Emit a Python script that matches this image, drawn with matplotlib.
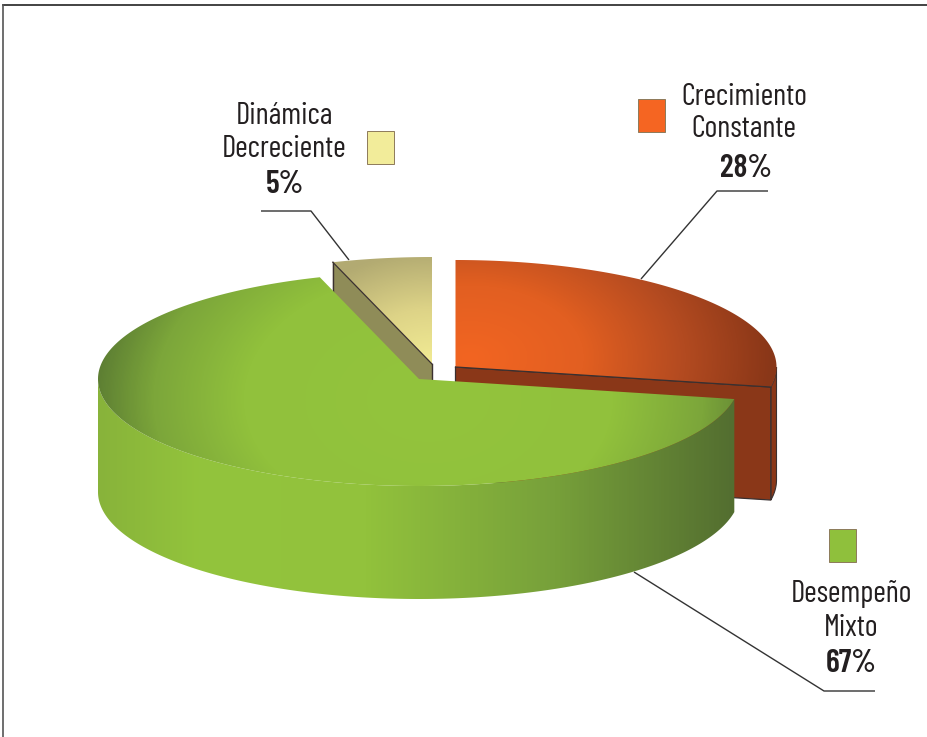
import numpy as np
import matplotlib
matplotlib.use("Agg")
import matplotlib.pyplot as plt
from matplotlib.patches import Polygon, Rectangle
from matplotlib.colors import LinearSegmentedColormap as LSC
from matplotlib import font_manager as fm

categories = [["Crecimiento", "Constante"], ["Desempeño", "Mixto"], ["Dinámica", "Decreciente"]]
shares = [28, 67, 5]
swatch_colors = ["#F56522", "#8FC03C", "#F2EC9A"]
START_ANGLE = 90.0

names = {f.name for f in fm.fontManager.ttflist}
FONT = next((n for n in ["Barlow Condensed", "Asap Condensed", "Cabin Condensed", "Liberation Sans"] if n in names),
            "DejaVu Sans")

W, H = 928, 737
fig = plt.figure(figsize=(W / 100, H / 100), dpi=100)
ax = fig.add_axes([0, 0, 1, 1])
ax.set_xlim(0, W)
ax.set_ylim(H, 0)
ax.axis("off")

RX, RY, DEPTH = 321.0, 107.0, 113.0
centers = [(455.5, 367.0), (419.0, 379.0), (432.0, 364.0)]

# slice angles come from the values, clockwise from the top
ends = START_ANGLE - np.cumsum(shares) * 3.6
starts = np.r_[START_ANGLE, ends[:-1]]


def pt(c, a, dy=0.0):
    a = np.radians(a)
    return np.c_[c[0] + RX * np.cos(a), c[1] - RY * np.sin(a) + dy]


def arc(c, a0, a1, dy=0.0, n=240):
    return pt(c, np.linspace(a0, a1, n), dy)


def paint(poly, fn, cmap, z):
    """Fill a polygon with a gradient; fn(x, y) -> 0..1."""
    x0, y0 = np.floor(poly.min(0))
    x1, y1 = np.ceil(poly.max(0))
    xs, ys = np.meshgrid(np.arange(x0, x1 + 1), np.arange(y0, y1 + 1))
    im = ax.imshow(fn(xs, ys), extent=(x0 - .5, x1 + .5, y1 + .5, y0 - .5), cmap=cmap,
                   vmin=0, vmax=1, zorder=z, aspect="auto", interpolation="bilinear")
    clip = Polygon(poly, closed=True, transform=ax.transData, fc="none", ec="none")
    ax.add_patch(clip)
    im.set_clip_path(clip)
    ax.set_xlim(0, W)
    ax.set_ylim(H, 0)


def radial(cx, cy, sx, sy):
    return lambda x, y: np.clip(np.hypot((x - cx) / sx, (y - cy) / sy), 0, 1)


red_top = LSC.from_list("r", [(0, "#F26522"), (.38, "#E25F21"), (.72, "#B24A20"), (1, "#8A3718")])
green_top = LSC.from_list("g", [(0, "#93C43C"), (.55, "#91C13C"), (.82, "#7CA63A"), (1, "#5C7D33")])
yellow_top = LSC.from_list("y", [(0, "#F2EC94"), (.5, "#DDD387"), (1, "#B3AB72")])
green_wall = LSC.from_list("gw", [(0, "#88B33A"), (.16, "#93C43C"), (.42, "#92C23C"),
                                  (.72, "#77A03A"), (1, "#536E30")])
edge = "#3a3030"

# leader lines (behind the pie)
leaders = [[(641, 279), (717, 191), (768, 191)],
           [(349, 260), (311, 211), (261, 211)],
           [(634, 572), (824, 691), (875, 691)]]
for L in leaders:
    p = np.array(L)
    ax.plot(p[:, 0], p[:, 1], color="#333333", lw=1.0, zorder=1, solid_capstyle="butt")

# Dinamica Decreciente
c = centers[2]
a0, a1 = starts[2], ends[2]
p_side = pt(c, np.array([a0]))[0]
wall = np.array([p_side, c, (c[0], c[1] + DEPTH), (p_side[0], p_side[1] + DEPTH)])
ax.add_patch(Polygon(wall, closed=True, fc="#8F8C58", ec="none", zorder=2))
ax.plot([p_side[0], p_side[0]], [p_side[1], p_side[1] + DEPTH], color=edge, lw=1, zorder=2.1)
ax.plot([c[0], c[0]], [c[1], c[1] + DEPTH], color=edge, lw=1, zorder=2.1)
top = np.vstack([c, arc(c, a0, a1)])
paint(top, radial(c[0], c[1], 150, 112), yellow_top, 3)
ax.plot([p_side[0], c[0]], [p_side[1], c[1]], color=edge, lw=.9, zorder=3.1)

# Crecimiento Constante
c = centers[0]
a0, a1 = starts[0], ends[0]
p_end = pt(c, np.array([a1]))[0]
outer = np.vstack([arc(c, 0, a1), arc(c, a1, 0, DEPTH)])
ax.add_patch(Polygon(outer, closed=True, fc="#8A3718", ec=edge, lw=.8, zorder=4))
wall = np.array([c, p_end, (p_end[0], p_end[1] + DEPTH), (c[0], c[1] + DEPTH)])
ax.add_patch(Polygon(wall, closed=True, fc="#8A3718", ec=edge, lw=.9, zorder=5))
top = np.vstack([c, arc(c, a0, a1)])
paint(top, radial(c[0] + 15, c[1] - 10, 300, 190), red_top, 6)
ax.plot([c[0], p_end[0]], [c[1], p_end[1]], color=edge, lw=.9, zorder=6.1)

# Desempeno Mixto
c = centers[1]
a0, a1 = starts[1], ends[1]
front = np.vstack([arc(c, a0, -180), arc(c, -180, a0, DEPTH)])
paint(front, lambda x, y: np.clip((x - (c[0] - RX)) / 636.0, 0, 1), green_wall, 7)
top = np.vstack([c, arc(c, a0, a1)])
paint(top, radial(c[0] + 10, c[1] + 20, 335, 230), green_top, 8)

# swatches
swatches = [(638, 99), (829, 529), (367, 131)]
for (x, y), col in zip(swatches, swatch_colors):
    ax.add_patch(Rectangle((x, y), 27, 33, fc=col, ec="#8d7a5a", lw=.7, zorder=10))

# labels: baselines in pixels
label_x = [744, 851, 284]
pct_x = [746, 851, 285]
line_y = [(105, 137), (602, 636), (124, 157)]
pct_y = [177, 672, 193]
for lines, x, ys, px, py, v in zip(categories, label_x, line_y, pct_x, pct_y, shares):
    for t, y in zip(lines, ys):
        ax.text(x, y, t, family=FONT, fontsize=22, color="#231F20", ha="center", va="baseline", zorder=11)
    ax.text(px, py, f"{v}%", family=FONT, fontsize=23, weight=600,
            color="#231F20", ha="center", va="baseline", zorder=11)

# page frame
ax.plot([3, W], [5, 5], color="#222222", lw=1.2, zorder=12)
ax.plot([3, 3], [5, H], color="#555555", lw=1.2, zorder=12)

fig.savefig("out.png", dpi=100)
